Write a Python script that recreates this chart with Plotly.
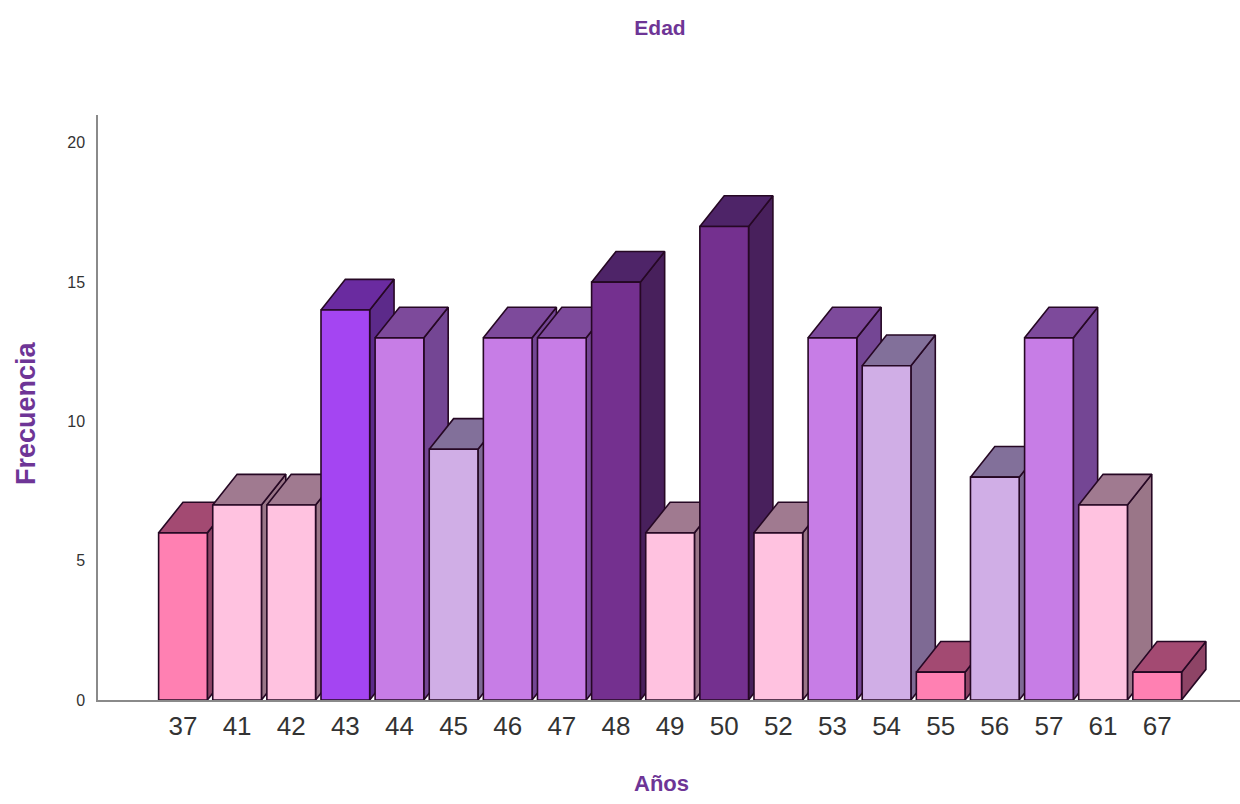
import plotly.graph_objects as go

# Age categories (years) and how many people fall in each
ages = ["37", "41", "42", "43", "44", "45", "46", "47", "48", "49",
        "50", "52", "53", "54", "55", "56", "57", "61", "67"]
freq = [6, 7, 7, 14, 13, 9, 13, 13, 15, 6, 17, 6, 13, 12, 1, 8, 13, 7, 1]
y_ticks = [0, 5, 10, 15, 20]

# Colour family of each bar
bar_tone = ["hot", "light", "light", "violet", "orchid", "lavender", "orchid",
            "orchid", "dark", "light", "dark", "light", "orchid", "lavender",
            "hot", "lavender", "orchid", "light", "hot"]

# front / top / side face colours for each family
palette = {
    "hot":      ("#FF80B2", "#A34A72", "#8E4466"),
    "light":    ("#FFC2E0", "#A07A90", "#9A7688"),
    "violet":   ("#A445F2", "#6A2BA0", "#5C2A8A"),
    "orchid":   ("#C77DE6", "#7D4A9B", "#744694"),
    "lavender": ("#D0AEE6", "#82709A", "#7E6A94"),
    "dark":     ("#74308F", "#4E2468", "#48205C"),
}

HALF = 0.45     # half bar width, in category units
DX = 0.45       # oblique depth, horizontal part (category units)
DY = 1.1        # oblique depth, vertical part (frequency units)
EDGE = dict(color="#260824", width=1.6)
TITLE_COLOR = "#6E3596"

fig = go.Figure()


def face(xs, ys, color):
    fig.add_trace(go.Scatter(
        x=xs + [xs[0]], y=ys + [ys[0]], mode="lines", fill="toself",
        fillcolor=color, line=EDGE, hoverinfo="skip", showlegend=False))


for i, (h, tone) in enumerate(zip(freq, bar_tone)):
    front, top, side = palette[tone]
    x0, x1 = i - HALF, i + HALF
    # right side face
    face([x1, x1 + DX, x1 + DX, x1], [0, DY, h + DY, h], side)
    # top face
    face([x0, x1, x1 + DX, x0 + DX], [h, h, h + DY, h + DY], top)
    # front face
    face([x0, x1, x1, x0], [0, 0, h, h], front)

fig.update_layout(
    width=1240, height=804,
    margin=dict(l=98, r=0, t=115, b=104),
    paper_bgcolor="white", plot_bgcolor="white",
    font=dict(family="Liberation Sans, Arial, sans-serif", color="#333333"),
    title=dict(text="<b>Edad</b>", x=660 / 1240, y=1 - 28 / 804,
               xanchor="center", yanchor="middle",
               font=dict(size=21, color=TITLE_COLOR)),
    xaxis=dict(range=[-1.57, 19.53], tickmode="array",
               tickvals=list(range(len(ages))), ticktext=ages,
               showgrid=False, zeroline=False, showline=True,
               linecolor="#8A8A8A", linewidth=1.5, ticks="",
               ticklabelstandoff=2,
               tickfont=dict(size=26, color="#333333"), fixedrange=True),
    yaxis=dict(range=[0, 21], tickmode="array", tickvals=y_ticks,
               showgrid=False, zeroline=False, showline=True,
               linecolor="#8A8A8A", linewidth=1.5, ticks="",
               ticklabelstandoff=8,
               tickfont=dict(size=16, color="#333333"), fixedrange=True),
    annotations=[
        dict(text="<b>Años</b>", xref="paper", yref="paper",
             x=(661 - 98) / 1142, y=(700 - 783) / 585,
             xanchor="center", yanchor="middle", showarrow=False,
             font=dict(size=22, color=TITLE_COLOR)),
        dict(text="<b>Frecuencia</b>", xref="paper", yref="paper",
             x=(26 - 98) / 1142, y=(700 - 413) / 585, textangle=-90,
             xanchor="center", yanchor="middle", showarrow=False,
             font=dict(size=27, color=TITLE_COLOR)),
    ],
)

fig.write_html("out.html")
